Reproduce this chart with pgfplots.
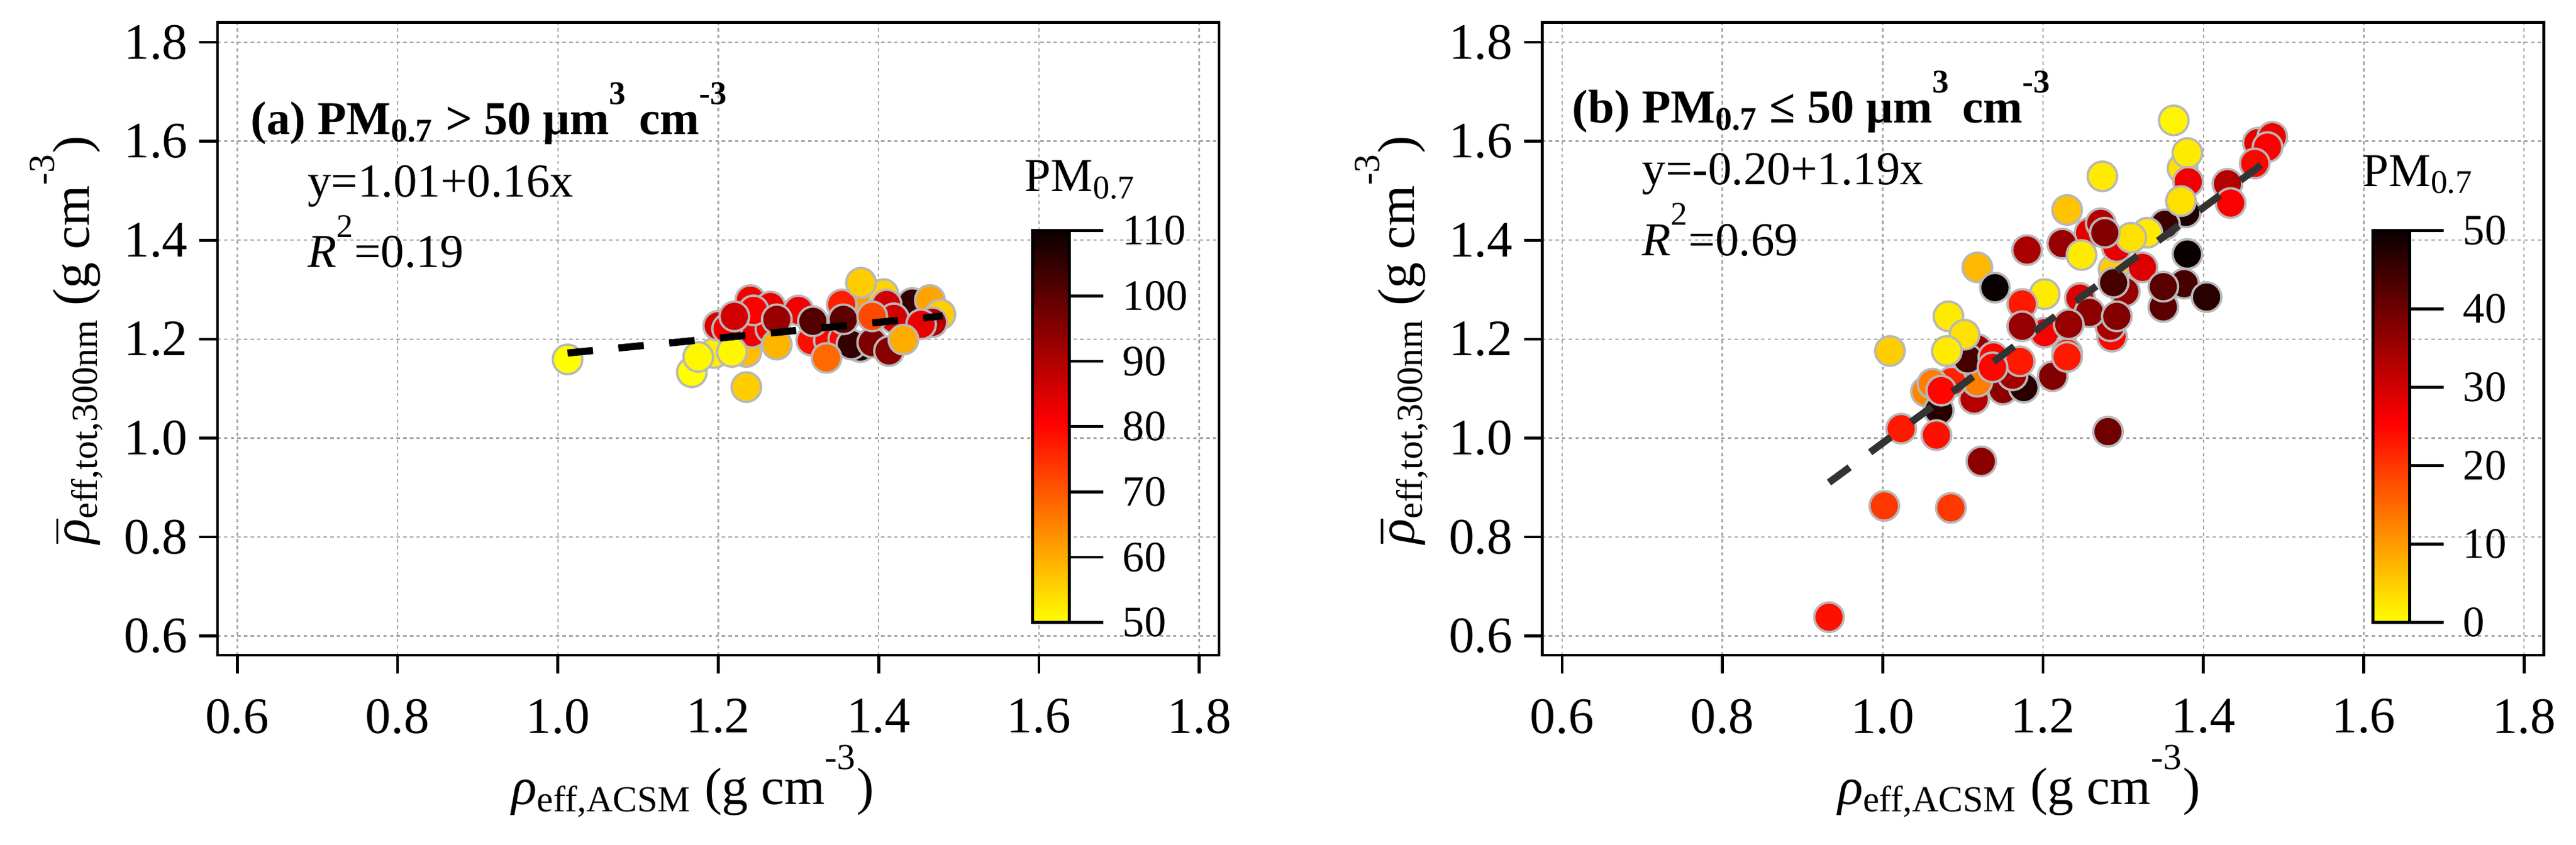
\documentclass[border=0pt]{standalone}
\usepackage{amsmath}
\usepackage{fontspec}
\setmainfont{Liberation Serif}
\usepackage{pgfplots}
\pgfplotsset{compat=1.18}

\definecolor{medge}{rgb}{0.72,0.72,0.72}
\definecolor{gridc}{rgb}{0.66,0.66,0.66}
\definecolor{lineb}{rgb}{0.2,0.2,0.2}

\newcommand\hsup[1]{\raisebox{0.3em}{\textsuperscript{#1}}}
\newcommand\fs[1]{\fontsize{#1}{#1}\selectfont}

\pgfplotstableread{
x y c
1.195 1.172 52
1.235 1.174 58
1.378 1.270 62
1.406 1.291 55
1.453 1.271 53
1.442 1.273 105
1.464 1.279 61
1.477 1.250 56
1.240 1.279 82
1.265 1.266 83
1.200 1.227 85
1.242 1.213 82
1.265 1.221 82
1.300 1.258 82
1.316 1.197 79
1.338 1.197 80
1.356 1.200 80
1.377 1.184 108
1.366 1.189 105
1.392 1.193 96
1.410 1.270 86
1.354 1.270 77
1.244 1.258 81
1.211 1.221 82
1.378 1.314 56
1.167 1.133 50
1.175 1.164 51
1.217 1.174 51
1.273 1.189 59
1.235 1.103 56
1.335 1.162 68
1.220 1.246 86
1.273 1.240 93
1.318 1.236 101
1.356 1.240 100
1.419 1.242 86
1.392 1.246 72
1.467 1.234 90
1.453 1.230 83
1.413 1.176 95
1.431 1.199 60
1.012 1.159 50
}\dataA

\pgfplotstableread{
x y c
1.374 1.545 3
1.378 1.456 48
1.352 1.432 45
1.288 1.341 5
1.258 1.415 28
1.292 1.386 28
1.302 1.296 36
1.350 1.265 42
1.272 1.434 33
1.054 1.094 12
1.070 1.056 47
1.114 1.079 33
1.150 1.098 37
1.176 1.102 47
1.118 1.114 13
1.086 1.114 22
1.162 1.127 35
1.212 1.125 38
1.118 1.180 36
1.106 1.160 44
1.138 1.164 25
1.202 1.213 26
1.286 1.205 25
1.230 1.172 23
1.171 1.155 23
1.230 1.164 23
1.284 1.226 34
1.246 1.283 29
1.258 1.254 37
1.292 1.246 38
1.232 1.230 36
1.363 1.642 1
1.380 1.576 2
1.381 1.518 27
1.372 1.479 3
1.330 1.415 2
1.310 1.405 3
1.380 1.372 50
1.324 1.345 29
1.288 1.314 44
1.376 1.312 44
1.350 1.306 42
1.404 1.285 47
1.274 1.529 2
1.230 1.461 6
1.277 1.415 38
1.224 1.393 36
1.248 1.370 2
1.180 1.380 34
1.118 1.345 7
1.140 1.304 50
1.202 1.291 2
1.174 1.271 23
1.174 1.226 36
1.082 1.246 2
1.102 1.209 3
1.080 1.176 2
1.009 1.176 5
1.468 1.597 28
1.486 1.609 27
1.480 1.588 26
1.464 1.555 25
1.430 1.514 33
1.434 1.475 26
1.062 1.110 13
1.073 1.096 25
1.137 1.143 25
0.933 0.638 24
1.002 0.863 20
1.085 0.859 20
1.123 0.953 37
1.281 1.013 40
1.023 1.019 23
1.067 1.006 24
}\dataB

\pgfplotsset{
  colormap={hotr}{rgb(0pt)=(1,1,0); rgb(51pt)=(1,0,0); rgb(100pt)=(0.04,0,0)},
  myaxis/.style={
    scale only axis, width=392.4pt, height=248pt, anchor=south west,
    xmin=0.5753, xmax=1.8247, ymin=0.5613, ymax=1.84,
    xtick={0.6,0.8,1.0,1.2,1.4,1.6,1.8},
    ytick={0.6,0.8,1.0,1.2,1.4,1.6,1.8},
    tick pos=left, tick align=outside, major tick length=7.2pt,
    tick style={black, line width=1.1pt},
    axis line style={line width=1.1pt},
    grid=major,
    major grid style={gridc, line width=0.6pt, dash pattern=on 1.3pt off 1.3pt},
    xticklabel={\pgfmathprintnumber[fixed,fixed zerofill,precision=1,assume math mode=true]{\tick}},
    yticklabel={\pgfmathprintnumber[fixed,fixed zerofill,precision=1,assume math mode=true]{\tick}},
    ticklabel style={font=\fs{20}, inner sep=0pt},
    xticklabel shift=9.8pt, yticklabel shift=4.2pt,
    clip=false, clip marker paths=true,
    colormap name=hotr,
    colorbar,
  },
  mycb/.style 2 args={colorbar style={
    at={(parent axis.south west)}, anchor=south west,
    xshift=#1, yshift=12.8pt,
    scale only axis, width=14.4pt, height=153.6pt,
    ytick=#2,
    ytick pos=right, yticklabel pos=right,
    tick align=outside, major tick length=13.2pt,
    tick style={black, line width=1.1pt},
    axis line style={line width=1.2pt},
    yticklabel={\pgfmathprintnumber[fixed,precision=0,assume math mode=true]{\tick}},
    yticklabel style={font=\fs{17}, inner sep=0pt},
    yticklabel shift=7.5pt,
  }},
  myscatter/.style={scatter, only marks, mark=*, mark size=5.8pt,
    scatter src=explicit,
    scatter/use mapped color={draw=medge, fill=mapped color},
    mark options={line width=0.9pt}},
}

\begin{document}
\begin{tikzpicture}
\useasboundingbox (0,0) rectangle (1009.2pt,331.2pt);

% ---------- panel (a)
\begin{axis}[myaxis, at={(85.2pt,74.4pt)},
  point meta min=50, point meta max=110,
  mycb={310.8pt}{{50,60,70,80,90,100,110}}]
\addplot[myscatter] table[x=x, y=y, meta=c] {\dataA};
\addplot[line width=2.8pt, black, dash pattern=on 10pt off 10pt] coordinates {(1.012,1.1719) (1.480,1.2468)};
\node[anchor=base west, font=\fs{18.5}] at (rel axis cs:0.0243,0.8226)
  {\bfseries (a) PM\textsubscript{0.7} > 50 μm\hsup{3} cm\hsup{-3}};
\node[anchor=base west, font=\fs{18.5}] at (rel axis cs:0.0811,0.7242) {y=1.01+0.16x};
\node[anchor=base west, font=\fs{18.5}] at (rel axis cs:0.0811,0.6129) {\textit{R}\hsup{2}=0.19};
\node[anchor=base west, font=\fs{18.5}] at (rel axis cs:0.797,0.7326) {PM\textsubscript{0.7}};
\node[anchor=base, font=\fs{20.5}] at (rel axis cs:0.475,-0.2352)
  {\textit{ρ}\textsubscript{eff,ACSM} (g cm\hsup{-3})};
\node[anchor=base, rotate=90, font=\fs{20.5}] at (rel axis cs:-0.128,0.498)
  {$\overline{\hbox{\itshape ρ}}$\textsubscript{eff,tot,300nm} (g cm\hsup{-3})};
\end{axis}

% ---------- panel (b)
\begin{axis}[myaxis, at={(604.2pt,74.4pt)},
  point meta min=0, point meta max=50,
  mycb={316.9pt}{{0,10,20,30,40,50}}]
\addplot[myscatter] table[x=x, y=y, meta=c] {\dataB};
\addplot[line width=2.8pt, lineb, dash pattern=on 10pt off 10pt] coordinates {(0.933,0.9103) (1.488,1.5707)};
\node[anchor=base west, font=\fs{18.5}] at (rel axis cs:0.0211,0.841)
  {\bfseries (b) PM\textsubscript{0.7} ≤ 50 μm\hsup{3} cm\hsup{-3}};
\node[anchor=base west, font=\fs{18.5}] at (rel axis cs:0.0908,0.7435) {y=-0.20+1.19x};
\node[anchor=base west, font=\fs{18.5}] at (rel axis cs:0.0908,0.6317) {\textit{R}\hsup{2}=0.69};
\node[anchor=base west, font=\fs{18.5}] at (rel axis cs:0.810,0.741) {PM\textsubscript{0.7}};
\node[anchor=base, font=\fs{20.5}] at (rel axis cs:0.476,-0.2352)
  {\textit{ρ}\textsubscript{eff,ACSM} (g cm\hsup{-3})};
\node[anchor=base, rotate=90, font=\fs{20.5}] at (rel axis cs:-0.128,0.498)
  {$\overline{\hbox{\itshape ρ}}$\textsubscript{eff,tot,300nm} (g cm\hsup{-3})};
\end{axis}
\end{tikzpicture}
\end{document}
